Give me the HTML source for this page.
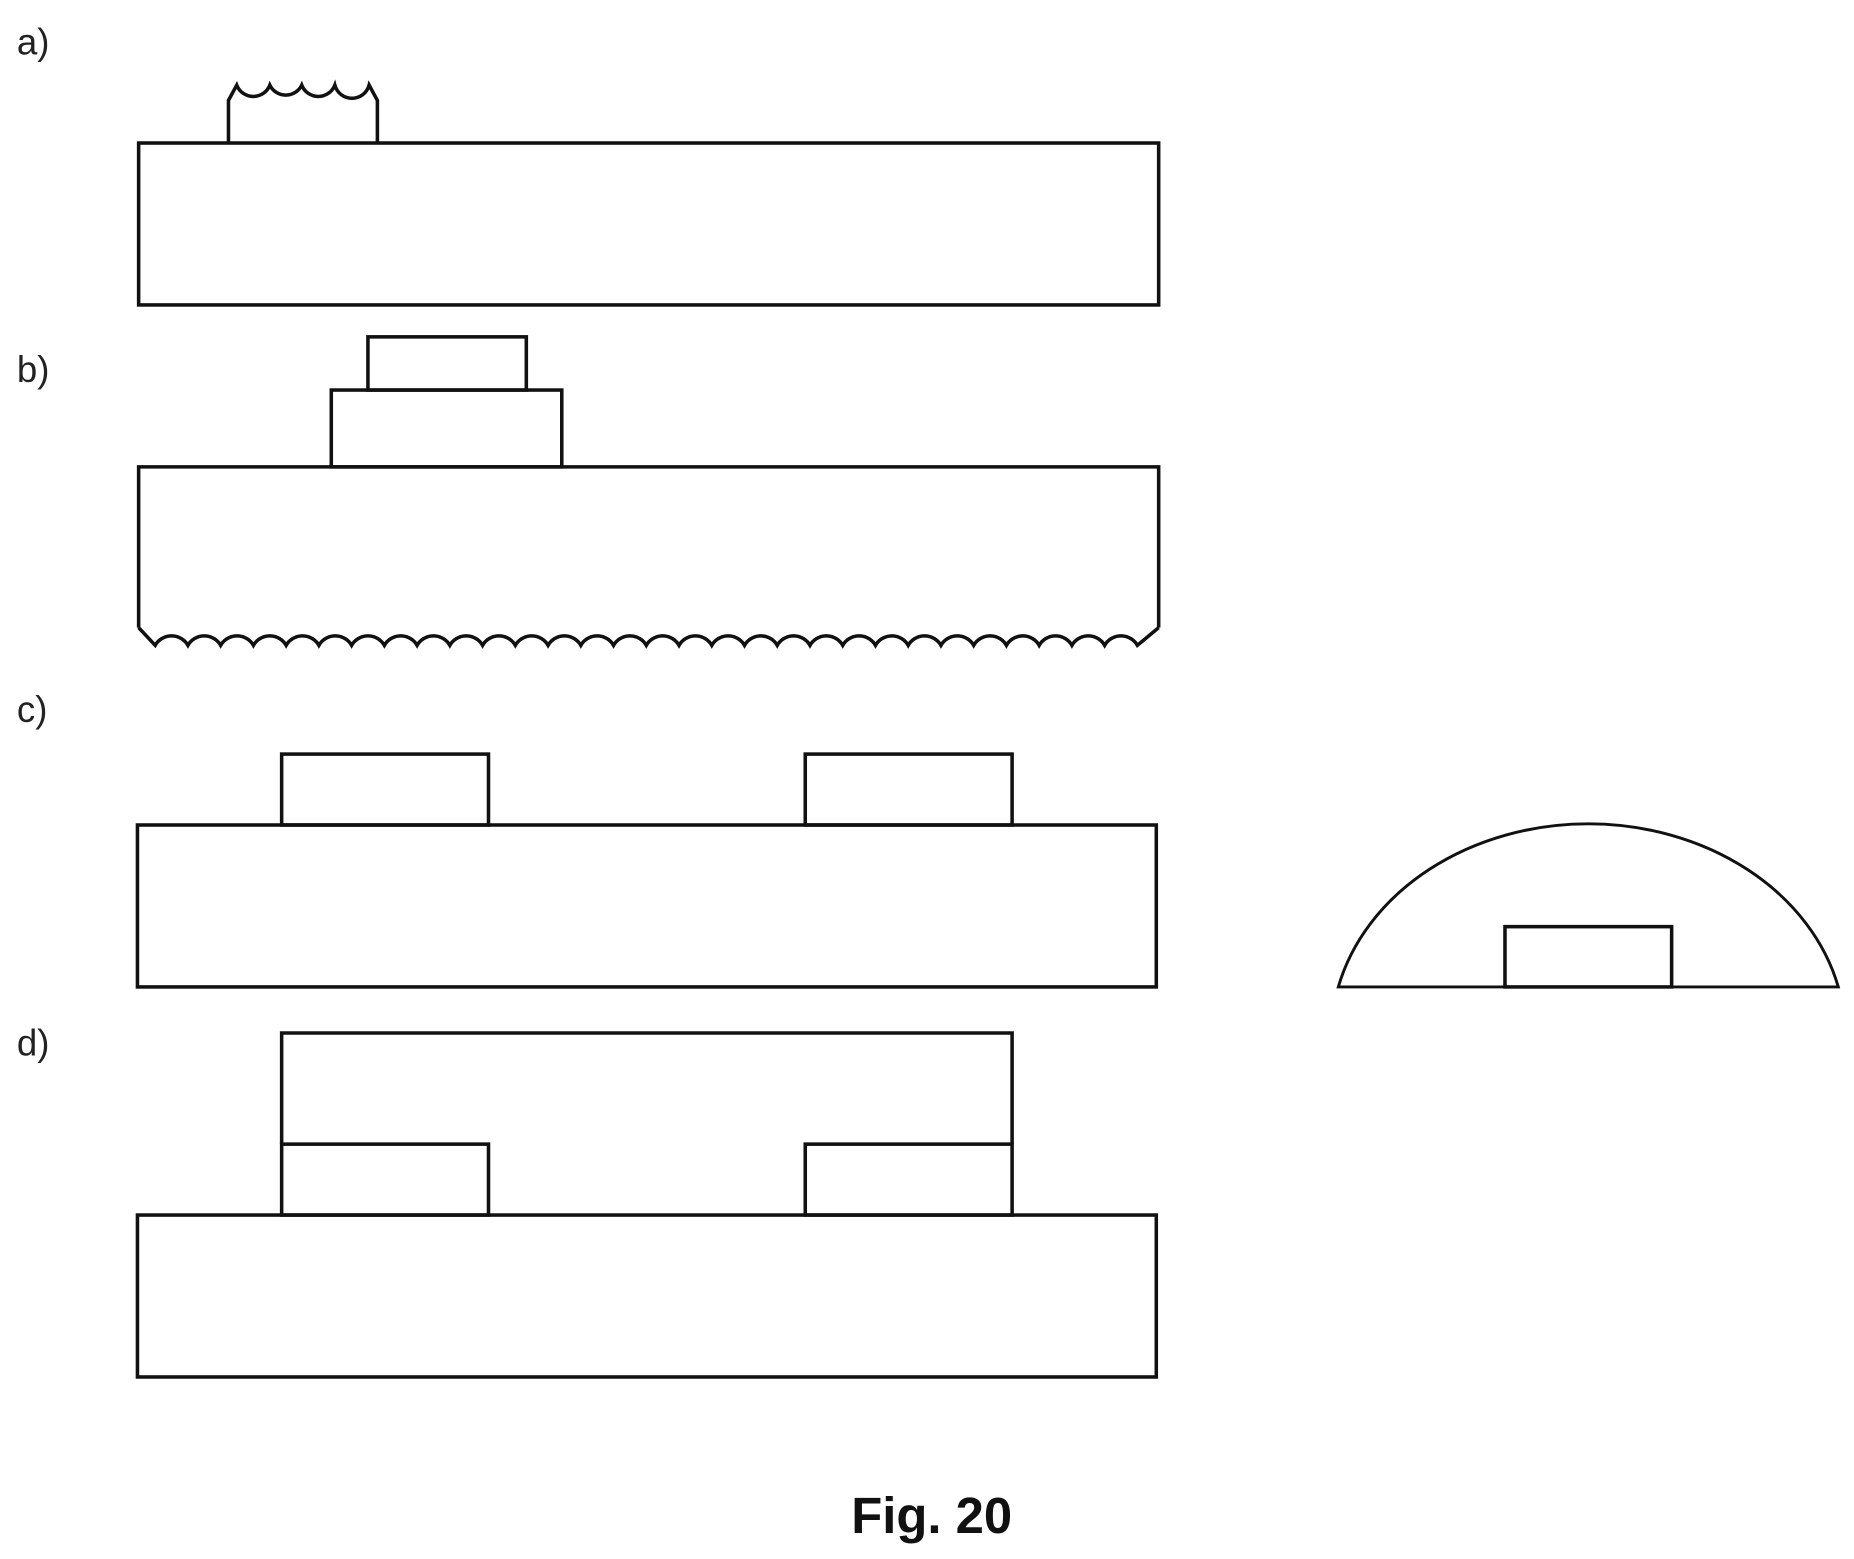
<!DOCTYPE html>
<html><head><meta charset="utf-8"><style>
html,body{margin:0;padding:0;background:#fff}
svg{display:block}
text{font-family:"Liberation Sans",sans-serif}
</style></head><body>
<svg width="1854" height="1559" viewBox="0 0 1568 1319" xmlns="http://www.w3.org/2000/svg">
<g fill="none" stroke="#111" stroke-width="3">
<!-- a -->
<rect x="117" y="121" width="863" height="137"/>
<path d="M193 121 V85 L200 72 A15 15 0 0 0 228 72 A15 15 0 0 0 255 72 A15 15 0 0 0 283 72 A15 15 0 0 0 312 72 L319 85 V121"/>
<!-- b -->
<rect x="311" y="285" width="134" height="45"/>
<rect x="280" y="330" width="195" height="65"/>
<path d="M117 531 V395 H980 V531"/>
<path d="M117 531 L131 546 A16 16 0 0 1 158.7 546 A16 16 0 0 1 186.4 546 A16 16 0 0 1 214.1 546 A16 16 0 0 1 241.8 546 A16 16 0 0 1 269.5 546 A16 16 0 0 1 297.2 546 A16 16 0 0 1 324.9 546 A16 16 0 0 1 352.6 546 A16 16 0 0 1 380.3 546 A16 16 0 0 1 408 546 A16 16 0 0 1 435.7 546 A16 16 0 0 1 463.4 546 A16 16 0 0 1 491.1 546 A16 16 0 0 1 518.8 546 A16 16 0 0 1 546.5 546 A16 16 0 0 1 574.2 546 A16 16 0 0 1 601.9 546 A16 16 0 0 1 629.6 546 A16 16 0 0 1 657.3 546 A16 16 0 0 1 685 546 A16 16 0 0 1 712.7 546 A16 16 0 0 1 740.4 546 A16 16 0 0 1 768.1 546 A16 16 0 0 1 795.8 546 A16 16 0 0 1 823.5 546 A16 16 0 0 1 851.2 546 A16 16 0 0 1 878.9 546 A16 16 0 0 1 906.6 546 A16 16 0 0 1 934.3 546 A16 16 0 0 1 962 546 L980 531"/>
<!-- c -->
<rect x="116" y="698" width="862" height="137"/>
<rect x="238" y="638" width="175" height="60"/>
<rect x="681" y="638" width="175" height="60"/>
<!-- d -->
<rect x="116" y="1028" width="862" height="137"/>
<rect x="238" y="968" width="175" height="60"/>
<rect x="681" y="968" width="175" height="60"/>
<path d="M238 968 V874 H856 V968"/>
<!-- dome -->
<path d="M1132 835 A217.5 180 0 0 1 1555 835 Z" stroke-width="2.5"/>
<rect x="1273" y="784" width="141" height="51"/>
</g>
<g font-size="31" fill="#222">
<text x="14" y="46">a)</text>
<text x="14" y="323">b)</text>
<text x="14" y="611">c)</text>
<text x="14" y="893">d)</text>
</g>
<text x="788" y="1297" text-anchor="middle" font-size="43" font-weight="bold" fill="#111">Fig. 20</text>
</svg>
</body></html>
